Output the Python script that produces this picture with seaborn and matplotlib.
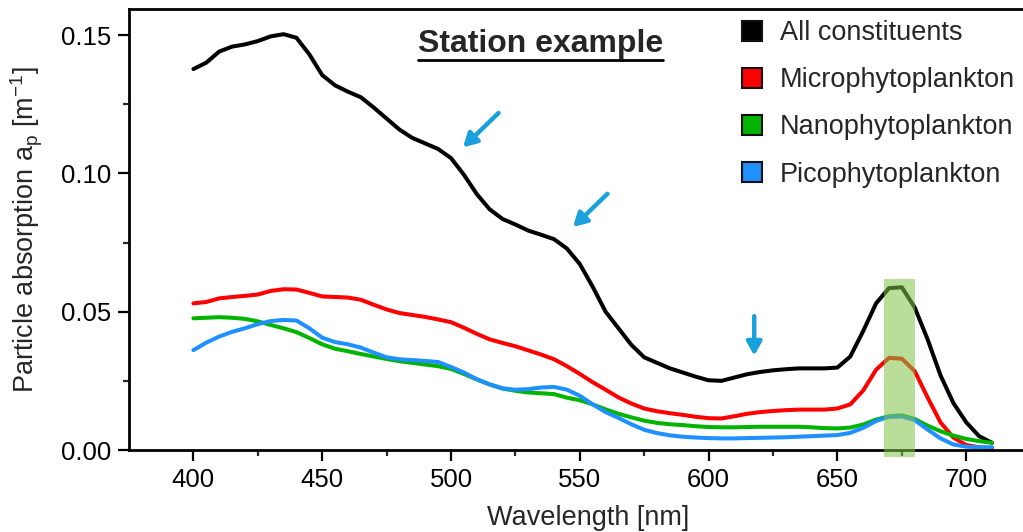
import numpy as np
import pandas as pd
import seaborn as sns
from matplotlib import pyplot as plt
from matplotlib.patches import Patch
from matplotlib.lines import Line2D

# wavelengths [nm], every 5 nm
wavelength = list(range(400, 711, 5))

all_constituents = [
    0.1377, 0.1400, 0.1440, 0.1458, 0.1466, 0.1478, 0.1495, 0.1503, 0.1490, 0.1430,
    0.1355, 0.1318, 0.1295, 0.1275, 0.1238, 0.1198, 0.1158, 0.1128, 0.1108, 0.1088,
    0.1055, 0.0995, 0.0925, 0.0870, 0.0835, 0.0815, 0.0793, 0.0778, 0.0762, 0.0728,
    0.0672, 0.0590, 0.0500, 0.0440, 0.0380, 0.0335, 0.0315, 0.0295, 0.0280, 0.0265,
    0.0252, 0.0250, 0.0262, 0.0274, 0.0282, 0.0288, 0.0292, 0.0295, 0.0295, 0.0295,
    0.0298, 0.0338, 0.0430, 0.0530, 0.0585, 0.0588, 0.0515, 0.0400, 0.0270, 0.0170,
    0.0100, 0.0050, 0.0026]
micro = [
    0.0530, 0.0535, 0.0548, 0.0553, 0.0557, 0.0562, 0.0575, 0.0581, 0.0580, 0.0568,
    0.0555, 0.0553, 0.0551, 0.0543, 0.0525, 0.0508, 0.0495, 0.0488, 0.0481, 0.0472,
    0.0462, 0.0442, 0.0420, 0.0400, 0.0387, 0.0375, 0.0360, 0.0345, 0.0328, 0.0303,
    0.0275, 0.0245, 0.0218, 0.0190, 0.0168, 0.0150, 0.0140, 0.0133, 0.0127, 0.0120,
    0.0115, 0.0114, 0.0122, 0.0131, 0.0137, 0.0141, 0.0144, 0.0146, 0.0146, 0.0146,
    0.0150, 0.0165, 0.0215, 0.0290, 0.0333, 0.0330, 0.0285, 0.0190, 0.0100, 0.0045,
    0.0018, 0.0010, 0.0006]
nano = [
    0.0476, 0.0478, 0.0480, 0.0478, 0.0474, 0.0465, 0.0452, 0.0440, 0.0426, 0.0405,
    0.0382, 0.0366, 0.0357, 0.0347, 0.0338, 0.0329, 0.0321, 0.0315, 0.0309, 0.0303,
    0.0293, 0.0275, 0.0255, 0.0237, 0.0222, 0.0214, 0.0208, 0.0205, 0.0202, 0.0189,
    0.0180, 0.0165, 0.0147, 0.0131, 0.0118, 0.0106, 0.0098, 0.0093, 0.0090, 0.0086,
    0.0083, 0.0082, 0.0082, 0.0083, 0.0084, 0.0084, 0.0084, 0.0084, 0.0082, 0.0079,
    0.0078, 0.0081, 0.0092, 0.0110, 0.0122, 0.0125, 0.0112, 0.0088, 0.0068, 0.0052,
    0.0040, 0.0032, 0.0026]
pico = [
    0.0361, 0.0388, 0.0410, 0.0427, 0.0440, 0.0455, 0.0466, 0.0470, 0.0468, 0.0440,
    0.0406, 0.0390, 0.0382, 0.0370, 0.0352, 0.0335, 0.0328, 0.0325, 0.0322, 0.0318,
    0.0300, 0.0280, 0.0256, 0.0237, 0.0223, 0.0218, 0.0220, 0.0226, 0.0228, 0.0218,
    0.0196, 0.0165, 0.0137, 0.0116, 0.0093, 0.0073, 0.0061, 0.0053, 0.0048, 0.0045,
    0.0043, 0.0042, 0.0042, 0.0043, 0.0044, 0.0045, 0.0046, 0.0048, 0.0050, 0.0052,
    0.0054, 0.0062, 0.0080, 0.0105, 0.0120, 0.0121, 0.0108, 0.0074, 0.0042, 0.0020,
    0.0012, 0.0010, 0.0010]

names = ['All constituents', 'Microphytoplankton', 'Nanophytoplankton', 'Picophytoplankton']
colors = ['#000000', '#ff0000', '#00b400', '#1e90ff']

df = pd.concat([
    pd.DataFrame({'Wavelength': wavelength, 'ap': vals, 'Component': n})
    for n, vals in zip(names, [all_constituents, micro, nano, pico])
])

sns.set_style('ticks')
plt.rcParams['font.family'] = ['Liberation Sans', 'DejaVu Sans']
plt.rcParams['mathtext.default'] = 'regular'

fig = plt.figure(figsize=(10.23, 5.32), dpi=100)
ax = fig.add_axes([129 / 1023, 82 / 532, 897 / 1023, 441 / 532])

sns.lineplot(data=df, x='Wavelength', y='ap', hue='Component', hue_order=names,
             palette=colors, linewidth=2.9, legend=False, ax=ax,
             solid_joinstyle='round', solid_capstyle='round')

ax.set_xlim(375, 723.2)
ax.set_ylim(0, 0.1594)
ax.set_xticks([400, 450, 500, 550, 600, 650, 700])
ax.set_xticks([425, 475, 525, 575, 625, 675], minor=True)
ax.set_yticks([0.0, 0.05, 0.10, 0.15])
ax.set_yticks([0.025, 0.075, 0.125], minor=True)
ax.set_yticklabels(['0.00', '0.05', '0.10', '0.15'])
ax.tick_params(which='major', direction='out', length=8, width=1.6, labelsize=18.5, pad=5, colors='black')
ax.tick_params(which='minor', direction='out', length=4.5, width=1.6)
for s in ax.spines.values():
    s.set_linewidth(2)
    s.set_color('black')

ax.set_xlabel('Wavelength [nm]', fontsize=19.5)
ax.set_ylabel('Particle absorption a$_{p}$ [m$^{-1}$]', fontsize=19.5)
ax.xaxis.set_label_coords(0.512, -0.125)
ax.yaxis.set_label_coords(-0.094, 0.5)

# highlighted chlorophyll-a red peak
ax.axvspan(668, 680, ymin=-0.016, ymax=0.388, color='#80c445', alpha=0.55, lw=0, clip_on=False, zorder=5)

# shoulders marked with arrows
arrow_kw = dict(arrowstyle='-|>,head_length=0.8,head_width=0.45', color='#1aa0dc', lw=3.2)
ax.annotate('', xy=(503.9, 0.1087), xytext=(519.2, 0.1225), arrowprops=arrow_kw)
ax.annotate('', xy=(546.6, 0.0799), xytext=(561.5, 0.0933), arrowprops=arrow_kw)
ax.annotate('', xy=(617.7, 0.0331), xytext=(617.7, 0.0494), arrowprops=arrow_kw)

title = ax.text(0.459, 0.903, 'Station example', transform=ax.transAxes, ha='center',
                va='baseline', fontsize=23, fontweight='bold')

handles = [Patch(facecolor=c, edgecolor='#111111', linewidth=1.5) for c in colors]
ax.legend(handles, names, loc='upper left', bbox_to_anchor=(0.674, 0.993), frameon=False,
          fontsize=19.5, handlelength=0.75, handleheight=0.75, handletextpad=0.65,
          labelspacing=0.78, borderpad=0.3, borderaxespad=0)

# underline for the title
fig.canvas.draw()
bb = title.get_window_extent()
fig.add_artist(Line2D([bb.x0, bb.x1], [bb.y0 - 1, bb.y0 - 1], transform=None,
                      color='black', lw=2))

fig.savefig('out.png', dpi=100)
